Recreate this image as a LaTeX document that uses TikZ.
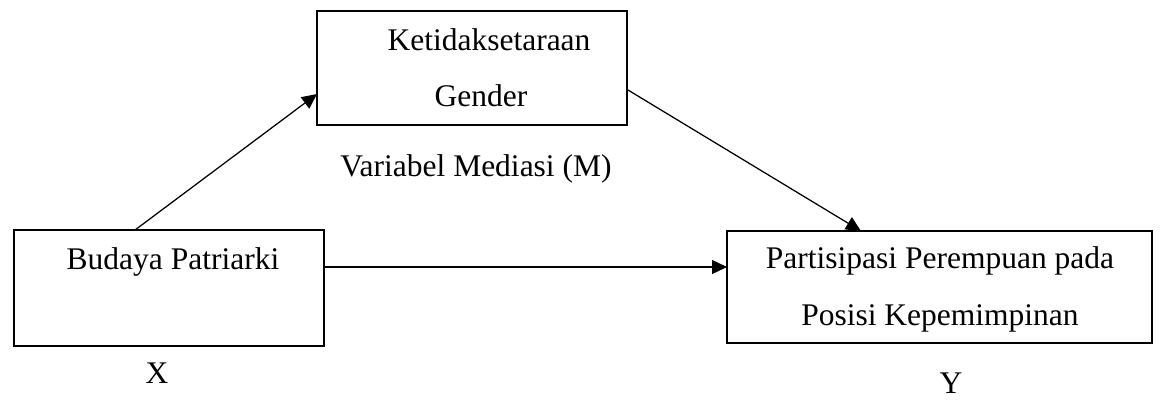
\documentclass[tikz,border=0pt]{standalone}
\usepackage{fontspec}
\setmainfont{Liberation Serif}
\usepackage{tikz}
\usetikzlibrary{positioning,arrows.meta}

\begin{document}
\begin{tikzpicture}[
    x=0.4pt, y=-0.4pt,
    every node/.style={font=\fontsize{12.6}{15}\selectfont},
    box/.style={draw, line width=1.1pt, inner sep=0pt},
    txt/.style={anchor=base, inner sep=0pt},
    arr/.style={-{Triangle[length=6pt,width=5.6pt]}, line width=0.5pt},
]
\useasboundingbox (0,0) rectangle (1160,401);
% Boxes (absolute coords, pixel units)
\node[box, minimum width=124pt, minimum height=45.6pt] (med) at (472,68) {};
\node[box, minimum width=124pt, minimum height=46.4pt] (bud) at (169,288) {};
\node[box, minimum width=170pt, minimum height=44.8pt] (par) at (939.5,287) {};
% Texts
\node[txt] (medA) at (489,50)  {Ketidaksetaraan};
\node[txt] (medB) at (481,106) {Gender};
\node[txt] (medL) at (476,176) {Variabel Mediasi (M)};
\node[txt] (budA) at (173,269) {Budaya Patriarki};
\node[txt] (budL) at (157,383) {X};
\node[txt] (parA) at (940,268) {Partisipasi Perempuan pada};
\node[txt] (parB) at (940,325) {Posisi Kepemimpinan};
\node[txt] (parL) at (951,393) {Y};
% Arrow end points
\coordinate (budT) at (135,230);
\coordinate (medW) at (317,94);
\coordinate (budE) at (324,267);
\coordinate (parW) at (727,267);
\coordinate (medE) at (628,90);
\coordinate (parN) at (861,231);
% Arrows
\draw[arr] (budT) -- (medW);
\draw[arr] (budE) -- (parW);
\draw[arr] (medE) -- (parN);
\end{tikzpicture}
\end{document}
